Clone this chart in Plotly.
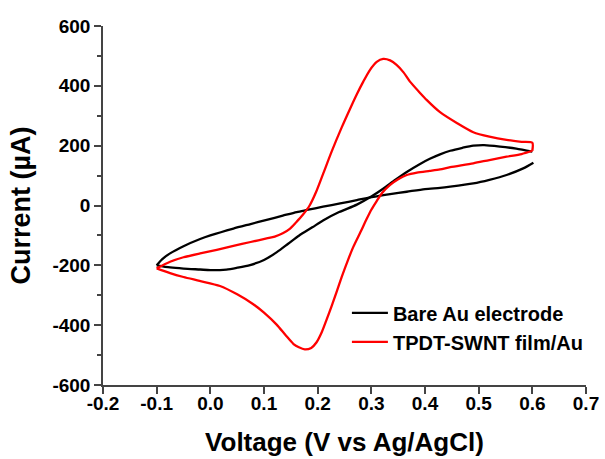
import plotly.graph_objects as go

# ---- data ----
# Bare Au electrode: branch that is lower at low potential and peaks near 0.5 V
bare_b_v = [-0.1, -0.075, -0.05, -0.019, 0.0, 0.03, 0.05, 0.074, 0.1, 0.124, 0.145, 0.165, 0.19, 0.21, 0.24,
            0.273, 0.3, 0.322, 0.345, 0.366, 0.39, 0.409, 0.428, 0.447, 0.47, 0.49, 0.51, 0.54, 0.57, 0.6]
bare_b_i = [-200, -207, -211, -214, -216, -214, -208, -199, -182, -156, -128, -101, -73, -50, -22,
            3, 30, 56, 86, 112, 138, 156, 171, 183, 193, 200, 202, 197, 190, 180]
# Bare Au electrode: branch that is upper at low potential, nearly straight
bare_a_v = [-0.1, -0.09, -0.075, -0.05, -0.019, 0.0, 0.043, 0.075, 0.105, 0.135, 0.161, 0.18, 0.21, 0.242,
            0.273, 0.304, 0.335, 0.366, 0.4, 0.428, 0.447, 0.49, 0.52, 0.552, 0.583, 0.602]
bare_a_i = [-200, -180, -160, -136, -112, -100, -77, -62, -48, -34, -22, -15, -4, 7,
            18, 29, 38, 46, 55, 59, 63, 74, 86, 102, 124, 143]

# TPDT-SWNT film/Au: forward (oxidation) branch
film_f_v = [-0.1, -0.075, -0.05, -0.019, 0.012, 0.043, 0.075, 0.105, 0.12, 0.135, 0.148, 0.16, 0.172, 0.185,
            0.197, 0.21, 0.226, 0.245, 0.26, 0.273, 0.285, 0.297, 0.31, 0.322, 0.335, 0.347, 0.36, 0.372,
            0.39, 0.403, 0.428, 0.46, 0.49, 0.52, 0.552, 0.58, 0.6, 0.6]
film_f_i = [-210, -188, -173, -160, -148, -135, -122, -110, -104, -93, -78, -56, -32, 0,
            45, 105, 180, 262, 322, 372, 414, 452, 480, 490, 485, 470, 445, 414,
            378, 353, 312, 275, 245, 230, 219, 213, 210, 183]
# TPDT-SWNT film/Au: return (reduction) branch
film_r_v = [0.6, 0.58, 0.552, 0.52, 0.49, 0.447, 0.428, 0.409, 0.385, 0.366, 0.35, 0.335, 0.32, 0.31, 0.3,
            0.291, 0.28, 0.266, 0.257, 0.245, 0.235, 0.226, 0.217, 0.208, 0.198, 0.188, 0.176, 0.165,
            0.155, 0.14, 0.124, 0.1, 0.08, 0.05, 0.018, -0.02, -0.05, -0.075, -0.1]
film_r_i = [183, 172, 163, 152, 141, 128, 121, 116, 110, 102, 88, 69, 42, 15, -14,
            -46, -88, -140, -180, -238, -290, -336, -380, -422, -457, -476, -481, -474,
            -463, -433, -399, -358, -330, -297, -269, -252, -239, -226, -210]

x_ticks = [-0.2, -0.1, 0.0, 0.1, 0.2, 0.3, 0.4, 0.5, 0.6, 0.7]
x_labels = ["-0.2", "-0.1", "0.0", "0.1", "0.2", "0.3", "0.4", "0.5", "0.6", "0.7"]
y_ticks = [-600, -400, -200, 0, 200, 400, 600]
y_labels = ["-600", "-400", "-200", "0", "200", "400", "600"]

FONT = "Arial, Liberation Sans, sans-serif"
LW = 2.3
SM = 0.7

fig = go.Figure()
fig.add_trace(go.Scatter(x=bare_b_v, y=bare_b_i, mode="lines", name="Bare Au electrode",
                         legendgroup="bare", showlegend=True,
                         line=dict(color="#000000", width=LW, shape="spline", smoothing=SM)))
fig.add_trace(go.Scatter(x=bare_a_v, y=bare_a_i, mode="lines", name="Bare Au electrode",
                         legendgroup="bare", showlegend=False,
                         line=dict(color="#000000", width=LW, shape="spline", smoothing=SM)))
fig.add_trace(go.Scatter(x=film_f_v, y=film_f_i, mode="lines", name="TPDT-SWNT film/Au",
                         legendgroup="film", showlegend=True,
                         line=dict(color="#ff0000", width=LW, shape="spline", smoothing=SM)))
fig.add_trace(go.Scatter(x=film_r_v, y=film_r_i, mode="lines", name="TPDT-SWNT film/Au",
                         legendgroup="film", showlegend=False,
                         line=dict(color="#ff0000", width=LW, shape="spline", smoothing=SM)))

axis_common = dict(showgrid=False, zeroline=False, showline=True, linecolor="#444444", linewidth=1.5,
                   ticks="outside", ticklen=7, tickwidth=1.5, tickcolor="#444444", mirror=False,
                   tickfont=dict(family=FONT, size=19, color="#000000", weight="bold"))

fig.update_xaxes(range=[-0.2, 0.7], tickvals=x_ticks, ticktext=x_labels, ticklabelstandoff=-7,
                 title=dict(text="Voltage (V vs Ag/AgCl)", font=dict(family=FONT, size=26, color="#000000", weight="bold"),
                            standoff=20),
                 **axis_common)
fig.update_yaxes(range=[-600, 600], tickvals=y_ticks, ticktext=y_labels,
                 minor=dict(ticks="outside", ticklen=4, tickwidth=1.5, tickcolor="#444444", dtick=100, tick0=0),
                 title=dict(text="Current (µA)", font=dict(family=FONT, size=27, color="#000000", weight="bold"),
                            standoff=14),
                 **axis_common)

fig.update_layout(
    width=605, height=459,
    margin=dict(l=103, r=19, t=26, b=74, autoexpand=False),
    paper_bgcolor="white", plot_bgcolor="white",
    legend=dict(x=0.505, y=0.255, xanchor="left", yanchor="top", bgcolor="rgba(0,0,0,0)",
                borderwidth=0, tracegroupgap=0, itemwidth=36,
                font=dict(family=FONT, size=20, color="#000000", weight="bold")),
    showlegend=True,
)

fig.write_html("out.html")
